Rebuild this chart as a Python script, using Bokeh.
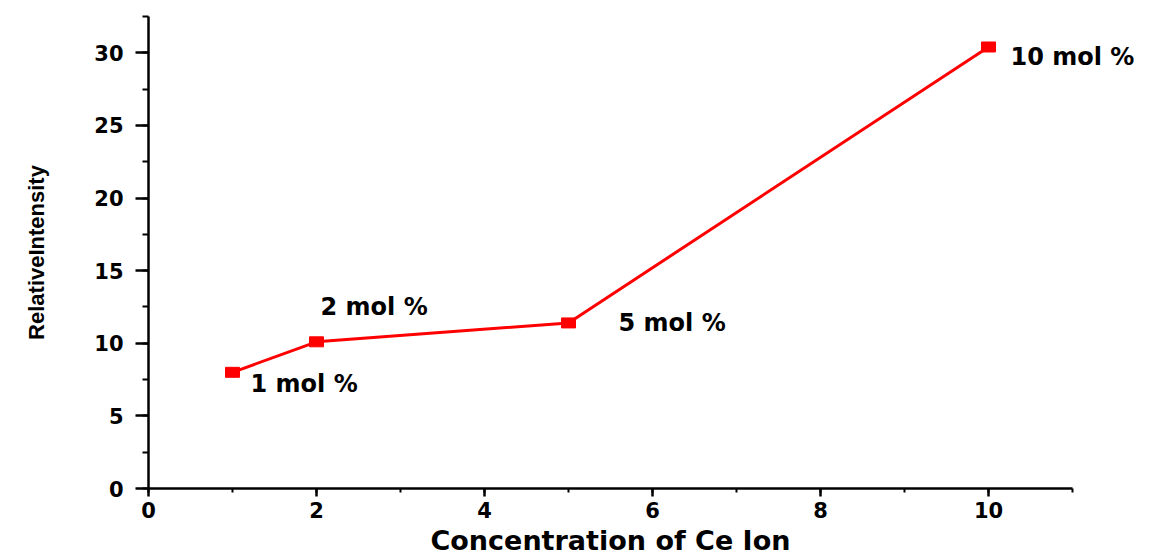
from bokeh.plotting import figure
from bokeh.models import Range1d, SingleIntervalTicker, ColumnDataSource, Label, Title
from bokeh.embed import file_html
from bokeh.resources import INLINE

# data
conc = [1, 2, 5, 10]
intensity = [8.0, 10.1, 11.4, 30.4]
labels = ["1 mol %", "2 mol %", "5 mol %", "10 mol %"]
label_dx = [18, 4, 50, 22]
label_dy = [-12, 35, 0, -10]
x_axis_end = 11
x_view_end = 11.952  # extra room on the right so the "10 mol %" label is not clipped

FONT = "DejaVu Sans"

p = figure(width=1152, height=559, output_backend="svg", toolbar_location=None,
           x_range=Range1d(0, x_view_end), y_range=Range1d(0, 32.5),
           min_border_left=148, min_border_right=0, min_border_top=16, min_border_bottom=71)
p.outline_line_color = None
p.xgrid.grid_line_color = None
p.ygrid.grid_line_color = None
p.background_fill_color = "white"
p.border_fill_color = "white"

p.xaxis.ticker = SingleIntervalTicker(interval=2, num_minor_ticks=2)
p.yaxis.ticker = SingleIntervalTicker(interval=5, num_minor_ticks=2)
p.xaxis.bounds = (0, x_axis_end)

for ax in (p.xaxis, p.yaxis):
    ax.axis_line_width = 2.5
    ax.major_tick_line_width = 2.5
    ax.minor_tick_line_width = 2
    ax.axis_line_color = "black"
    ax.major_tick_line_color = "black"
    ax.minor_tick_line_color = "black"
    ax.major_tick_in = 0
    ax.minor_tick_in = 0
    ax.major_label_text_font = FONT
    ax.major_label_text_font_style = "bold"
    ax.major_label_text_font_size = "21px"
    ax.major_label_text_color = "black"
    ax.axis_label_text_color = "black"
    ax.axis_label_text_font_style = "bold"

p.xaxis.major_tick_out = 8
p.xaxis.minor_tick_out = 4
p.yaxis.major_tick_out = 13
p.yaxis.minor_tick_out = 6
p.xaxis.major_label_standoff = 5

p.add_layout(Title(text="Concentration of Ce Ion", align="left", offset=282,
                   text_font=FONT, text_font_style="bold", text_font_size="27px",
                   text_color="black", standoff=5), "below")

p.yaxis.axis_label = "RelativeIntensity"
p.yaxis.axis_label_text_font = "Liberation Sans"
p.yaxis.axis_label_text_font_size = "22px"
p.yaxis.major_label_standoff = 12
p.yaxis.axis_label_standoff = 42

src = ColumnDataSource(dict(x=conc, y=intensity))
p.line("x", "y", source=src, line_color="#FF0000", line_width=3)
p.rect("x", "y", width=14, height=10, width_units="screen", height_units="screen",
       source=src, fill_color="#FF0000", line_color="#FF0000")

for xv, yv, t, dx, dy in zip(conc, intensity, labels, label_dx, label_dy):
    p.add_layout(Label(x=xv, y=yv, text=t, x_offset=dx, y_offset=dy,
                       text_font=FONT, text_font_style="bold", text_font_size="24px",
                       text_baseline="middle", text_align="left", text_color="black"))

open("out.html", "w").write(file_html(p, INLINE))
